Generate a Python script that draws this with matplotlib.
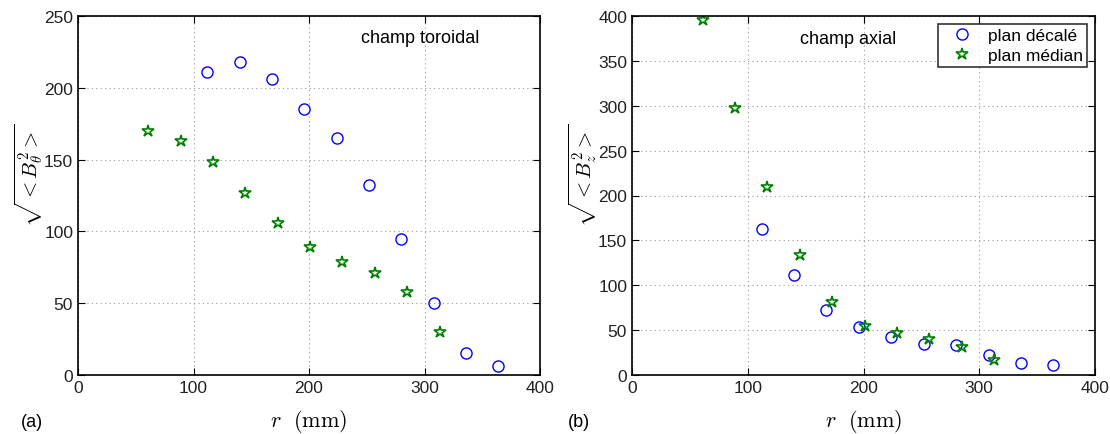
import numpy as np
import matplotlib
matplotlib.use('Agg')
import matplotlib.pyplot as plt

plt.rcParams['font.family'] = ['Liberation Sans', 'DejaVu Sans']
plt.rcParams['mathtext.fontset'] = 'cm'

# positions radiales (mm)
r_decale = [112, 140, 168, 196, 224, 252, 280, 308, 336, 364]
r_median = [61, 89, 117, 145, 173, 201, 229, 257, 285, 313]

# champ toroidal
bt_decale = [211, 218, 206, 185, 165, 132, 95, 50, 15, 6]
bt_median = [170, 163, 148, 127, 106, 89, 79, 71, 58, 30]

# champ axial
bz_decale = [163, 111, 72, 53, 42, 35, 33, 22, 13, 11]
bz_median = [396, 297, 210, 134, 81, 55, 47, 40, 31, 17]

fig = plt.figure(figsize=(11.1, 4.35), dpi=100)
ax1 = fig.add_axes([78/1110, 59/435, 462/1110, 359/435])
ax2 = fig.add_axes([632/1110, 59/435, 463/1110, 359/435])

green = (0, 0.5, 0)

def style(ax, ymax, yticks):
    ax.set_xlim(0, 400)
    ax.set_ylim(0, ymax)
    ax.set_xticks([0, 100, 200, 300, 400])
    ax.set_yticks(yticks)
    ax.grid(True, linestyle=(0, (1, 3)), color='#999999', linewidth=0.8)
    ax.tick_params(direction='in', top=True, right=True, labelsize=12.5, length=5, colors='black', labelcolor='#222222')
    for s in ax.spines.values():
        s.set_linewidth(1.2)
    ax.set_xlabel(r'$r\ \ (\mathrm{mm})$', fontsize=16, labelpad=9)

ax1.plot(r_decale, bt_decale, 'o', ms=8, mfc='none', mec='blue', mew=1.0, label='plan décalé')
ax1.plot(r_median, bt_median, '*', ms=9, mfc='none', mec=green, mew=1.2, label='plan médian')
style(ax1, 250, [0, 50, 100, 150, 200, 250])
ax1.set_ylabel(r'$\sqrt{<B_\theta^2>}$', fontsize=15)
ax1.yaxis.set_label_coords(-0.072, 0.56)
ax1.text(296, 235, 'champ toroidal', ha='center', va='center', fontsize=13)

ax2.plot(r_decale, bz_decale, 'o', ms=8, mfc='none', mec='blue', mew=1.0, label='plan décalé')
ax2.plot(r_median, bz_median, '*', ms=9, mfc='none', mec=green, mew=1.2, label='plan médian')
style(ax2, 400, [0, 50, 100, 150, 200, 250, 300, 350, 400])
ax2.set_ylabel(r'$\sqrt{<B_z^2>}$', fontsize=15)
ax2.yaxis.set_label_coords(-0.072, 0.56)
ax2.text(187, 375, 'champ axial', ha='center', va='center', fontsize=13)
leg = ax2.legend(loc='upper right', fontsize=12.5, fancybox=False, edgecolor='black',
                 borderaxespad=0.45, handletextpad=0.4, borderpad=0.25, labelspacing=0.25, handlelength=2.2)
leg.get_frame().set_linewidth(1.2)

fig.text(32/1110, 1 - 423/435, '(a)', ha='center', va='center', fontsize=13)
fig.text(579/1110, 1 - 423/435, '(b)', ha='center', va='center', fontsize=13)

fig.savefig('out.png', dpi=100)
